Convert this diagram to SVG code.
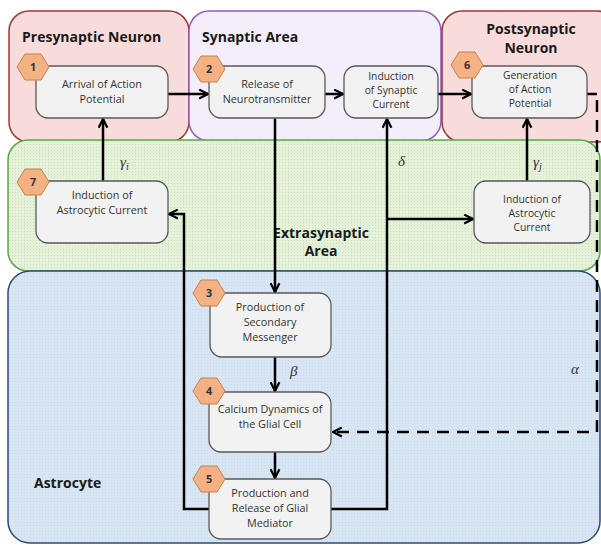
<svg xmlns="http://www.w3.org/2000/svg" width="601" height="546" viewBox="0 0 601 546">
<style>
.region-title{font-family:"Open Sans","Liberation Sans",sans-serif;font-weight:bold;font-size:14px;fill:#1a1a1a}
.node rect{fill:#f2f2f2;stroke:#5a5a5a;stroke-width:1.3}
.node text{font-family:"Open Sans","Liberation Sans",sans-serif;font-size:10.8px;fill:#333;text-anchor:middle}
.node text.s{font-size:10.3px}
.hex{fill:#f4b183;stroke:#c8804f;stroke-width:1}
.hexnum{font-family:"Open Sans","Liberation Sans",sans-serif;font-size:10.5px;font-weight:bold;fill:#333;text-anchor:middle}
.conn{fill:none;stroke:#000;stroke-width:2.5}
.dash{fill:none;stroke:#000;stroke-width:2.5;stroke-dasharray:12 8}
.greek{font-family:"Liberation Serif",serif;font-style:italic;font-size:15px;fill:#333}
</style>
<defs>
<marker id="arr" viewBox="0 0 10 10" refX="9" refY="5" markerWidth="11" markerHeight="11" markerUnits="userSpaceOnUse" orient="auto">
<path d="M1,1 L9,5 L1,9" fill="none" stroke="#000" stroke-width="2"/>
</marker>
<pattern id="gdots" width="3" height="3" patternUnits="userSpaceOnUse">
<rect width="3" height="3" fill="#e6f1da"/>
<rect width="1" height="1" fill="#c9e0b4"/>
</pattern>
<pattern id="bdots" width="3" height="3" patternUnits="userSpaceOnUse">
<rect width="3" height="3" fill="#d8e6f3"/>
<rect width="1" height="1" fill="#c7d9ec"/>
</pattern>
</defs>
<rect width="601" height="546" fill="#fff"/>
<g id="regions">
<rect x="9" y="11" width="180" height="131" rx="20" fill="#f8dcdc" stroke="#a33434" stroke-width="1.5"/>
<rect x="189" y="11" width="252" height="130" rx="20" fill="#f3eefa" stroke="#8c5cc4" stroke-width="1.5"/>
<rect x="442" y="11" width="175" height="131" rx="20" fill="#f8dcdc" stroke="#a33434" stroke-width="1.5"/>
<rect x="8" y="140" width="592" height="131" rx="20" fill="url(#gdots)" stroke="#5aa64a" stroke-width="1.5"/>
<rect x="8" y="271" width="592" height="272" rx="22" fill="url(#bdots)" stroke="#2c4a78" stroke-width="1.5"/>
<text class="region-title" x="22" y="42">Presynaptic Neuron</text>
<text class="region-title" x="202" y="42">Synaptic Area</text>
<text class="region-title" x="531" y="34" text-anchor="middle">Postsynaptic</text>
<text class="region-title" x="531" y="53" text-anchor="middle">Neuron</text>
<text class="region-title" x="321" y="238" text-anchor="middle">Extrasynaptic</text>
<text class="region-title" x="321" y="256" text-anchor="middle">Area</text>
<text class="region-title" x="34" y="488">Astrocyte</text>
</g>
<g id="connectors">
<line class="conn" x1="168" y1="94" x2="208" y2="94" marker-end="url(#arr)"/>
<line class="conn" x1="325" y1="94" x2="343" y2="94" marker-end="url(#arr)"/>
<line class="conn" x1="438" y1="94" x2="471" y2="94" marker-end="url(#arr)"/>
<line class="conn" x1="103" y1="181" x2="103" y2="119" marker-end="url(#arr)"/>
<line class="conn" x1="527" y1="181" x2="527" y2="119" marker-end="url(#arr)"/>
<line class="conn" x1="275" y1="118" x2="275" y2="292" marker-end="url(#arr)"/>
<line class="conn" x1="275" y1="357" x2="275" y2="391" marker-end="url(#arr)"/>
<line class="conn" x1="275" y1="452" x2="275" y2="478" marker-end="url(#arr)"/>
<polyline class="conn" points="331,509 387,509 387,119" marker-end="url(#arr)"/>
<line class="conn" x1="387" y1="219" x2="473" y2="219" marker-end="url(#arr)"/>
<polyline class="conn" points="209,509 184,509 184,214 169,214" marker-end="url(#arr)"/>
<polyline class="conn" points="587,94 597,94"/>
<polyline class="dash" points="597,100 597,432 333,432" marker-end="url(#arr)"/>
<text class="greek" x="120" y="167">γ<tspan font-size="10" dy="3">i</tspan></text>
<text class="greek" x="533" y="167">γ<tspan font-size="10" dy="3">j</tspan></text>
<text class="greek" x="398" y="166">δ</text>
<text class="greek" x="290" y="376">β</text>
<text class="greek" x="571" y="374">α</text>
</g>
<g id="n1" class="node">
<rect x="36" y="66" width="132" height="52" rx="12"/>
<text x="102" y="88">Arrival of Action</text>
<text x="102" y="103">Potential</text>
<polygon class="hex" points="17,67 25,54 41,54 49,67 41,80 25,80"/>
<text class="hexnum" x="33" y="71">1</text>
</g>
<g id="n2" class="node">
<rect x="209" y="66" width="116" height="52" rx="12"/>
<text x="267" y="88">Release of</text>
<text x="267" y="103">Neurotransmitter</text>
<polygon class="hex" points="193,69 201,56 217,56 225,69 217,82 201,82"/>
<text class="hexnum" x="209" y="73">2</text>
</g>
<g id="nsyn" class="node">
<rect x="344" y="66" width="94" height="52" rx="12"/>
<text class="s" x="391" y="80">Induction</text>
<text class="s" x="391" y="94">of Synaptic</text>
<text class="s" x="391" y="108">Current</text>
</g>
<g id="n6" class="node">
<rect x="472" y="66" width="115" height="52" rx="12"/>
<text class="s" x="530" y="79">Generation</text>
<text class="s" x="530" y="93">of Action</text>
<text class="s" x="530" y="107">Potential</text>
<polygon class="hex" points="451,65 459,52 475,52 483,65 475,78 459,78"/>
<text class="hexnum" x="467" y="69">6</text>
</g>
<g id="n7" class="node">
<rect x="36" y="181" width="132" height="62" rx="12"/>
<text x="102" y="199">Induction of</text>
<text x="102" y="214">Astrocytic Current</text>
<polygon class="hex" points="17,182 25,169 41,169 49,182 41,195 25,195"/>
<text class="hexnum" x="33" y="186">7</text>
</g>
<g id="nastr" class="node">
<rect x="474" y="181" width="116" height="62" rx="12"/>
<text class="s" x="532" y="203">Induction of</text>
<text class="s" x="532" y="217">Astrocytic</text>
<text class="s" x="532" y="231">Current</text>
</g>
<g id="n3" class="node">
<rect x="210" y="293" width="121" height="64" rx="12"/>
<text x="270" y="311">Production of</text>
<text x="270" y="326">Secondary</text>
<text x="270" y="341">Messenger</text>
<polygon class="hex" points="193,293 201,280 217,280 225,293 217,306 201,306"/>
<text class="hexnum" x="209" y="297">3</text>
</g>
<g id="n4" class="node">
<rect x="209" y="392" width="122" height="60" rx="12"/>
<text x="270" y="413">Calcium Dynamics of</text>
<text x="270" y="428">the Glial Cell</text>
<polygon class="hex" points="193,391 201,378 217,378 225,391 217,404 201,404"/>
<text class="hexnum" x="209" y="395">4</text>
</g>
<g id="n5" class="node">
<rect x="209" y="479" width="122" height="60" rx="12"/>
<text x="270" y="497">Production and</text>
<text x="270" y="512">Release of Glial</text>
<text x="270" y="527">Mediator</text>
<polygon class="hex" points="193,479 201,466 217,466 225,479 217,492 201,492"/>
<text class="hexnum" x="209" y="483">5</text>
</g>
</svg>
